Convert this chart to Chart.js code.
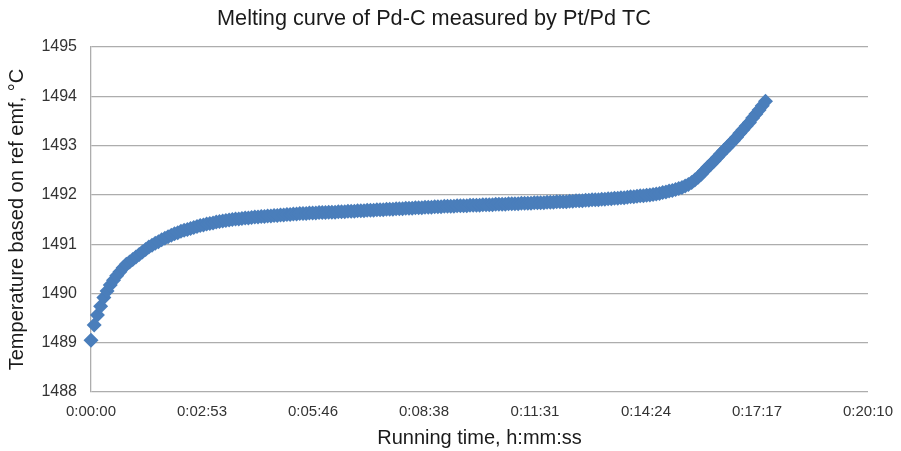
<!DOCTYPE html>
<html>
<head>
<meta charset="utf-8">
<script src="https://cdn.jsdelivr.net/npm/chart.js@4.4.1/dist/chart.umd.min.js"></script>
<style>
  body { margin: 0; background: #fff; }
  canvas { display: block; }
</style>
</head>
<body>
<canvas id="myChart" width="901" height="451"></canvas>
<script>
// sampling interval of the logger, seconds
const sampleStep = 5;

// temperature readings, one row per minute
const temperature = [
    1489.05, 1489.36, 1489.56, 1489.74, 1489.92, 1490.05, 1490.17, 1490.27, 1490.36, 1490.44, 1490.52, 1490.59,
    1490.64, 1490.69, 1490.74, 1490.79, 1490.84, 1490.89, 1490.94, 1490.98, 1491.02, 1491.05, 1491.09, 1491.12,
    1491.15, 1491.18, 1491.21, 1491.23, 1491.26, 1491.28, 1491.30, 1491.32, 1491.34, 1491.36, 1491.38, 1491.39,
    1491.41, 1491.42, 1491.43, 1491.45, 1491.46, 1491.47, 1491.48, 1491.49, 1491.50, 1491.51, 1491.51, 1491.52,
    1491.53, 1491.53, 1491.54, 1491.55, 1491.55, 1491.56, 1491.56, 1491.57, 1491.57, 1491.58, 1491.58, 1491.59,
    1491.59, 1491.60, 1491.60, 1491.61, 1491.61, 1491.62, 1491.62, 1491.62, 1491.63, 1491.63, 1491.63, 1491.64,
    1491.64, 1491.64, 1491.65, 1491.65, 1491.65, 1491.66, 1491.66, 1491.66, 1491.67, 1491.67, 1491.67, 1491.68,
    1491.68, 1491.68, 1491.69, 1491.69, 1491.69, 1491.70, 1491.70, 1491.70, 1491.71, 1491.71, 1491.71, 1491.72,
    1491.72, 1491.72, 1491.73, 1491.73, 1491.73, 1491.74, 1491.74, 1491.74, 1491.75, 1491.75, 1491.75, 1491.76,
    1491.76, 1491.76, 1491.77, 1491.77, 1491.77, 1491.77, 1491.78, 1491.78, 1491.78, 1491.78, 1491.79, 1491.79,
    1491.79, 1491.79, 1491.80, 1491.80, 1491.80, 1491.80, 1491.81, 1491.81, 1491.81, 1491.81, 1491.82, 1491.82,
    1491.82, 1491.82, 1491.83, 1491.83, 1491.83, 1491.83, 1491.84, 1491.84, 1491.84, 1491.84, 1491.85, 1491.85,
    1491.85, 1491.86, 1491.86, 1491.86, 1491.86, 1491.87, 1491.87, 1491.88, 1491.88, 1491.88, 1491.89, 1491.89,
    1491.90, 1491.90, 1491.90, 1491.91, 1491.91, 1491.92, 1491.92, 1491.93, 1491.93, 1491.94, 1491.94, 1491.95,
    1491.96, 1491.96, 1491.97, 1491.98, 1491.98, 1491.99, 1492.00, 1492.01, 1492.02, 1492.03, 1492.05, 1492.06,
    1492.08, 1492.09, 1492.11, 1492.13, 1492.15, 1492.18, 1492.21, 1492.25, 1492.30, 1492.36, 1492.42, 1492.49,
    1492.56, 1492.62, 1492.69, 1492.76, 1492.83, 1492.90, 1492.96, 1493.03, 1493.10, 1493.17, 1493.25, 1493.32,
    1493.40, 1493.47, 1493.56, 1493.64, 1493.72, 1493.81, 1493.90
];

// x axis: 0.002 day steps, shown as h:mm:ss
const xTickStep = 172.8;
const xTickLabels = ['0:00:00', '0:02:53', '0:05:46', '0:08:38', '0:11:31', '0:14:24', '0:17:17', '0:20:10'];

const yMin = 1488;
const yMax = 1495;

const points = temperature.map((t, i) => ({ x: i * sampleStep, y: t }));

const fontFamily = "'Liberation Sans', Arial, sans-serif";
const gridColor = '#adadad';

var ctx = document.getElementById('myChart').getContext('2d');
const myChart = new Chart(ctx, {
    type: 'scatter',
    data: {
        datasets: [{
            label: 'Pd-C',
            data: points,
            showLine: false,
            clip: false,
            pointStyle: 'rectRot',
            pointRadius: 7.5,
            pointBorderWidth: 0,
            backgroundColor: '#4a7ebb',
            borderColor: '#4a7ebb',
        }],
    },
    options: {
        responsive: false,
        animation: false,
        layout: {
            padding: { left: 0, right: 33, top: 0, bottom: 0 },
        },
        plugins: {
            legend: { display: false },
            tooltip: { enabled: false },
            title: {
                display: true,
                text: 'Melting curve of Pd-C measured by Pt/Pd TC',
                color: '#1a1a1a',
                font: { family: fontFamily, size: 21.7, weight: 'normal' },
                padding: { top: 6, bottom: 15 },
            },
        },
        scales: {
            x: {
                type: 'linear',
                min: 0,
                max: xTickStep * (xTickLabels.length - 1),
                afterBuildTicks: scale => {
                    scale.ticks = xTickLabels.map((_, i) => ({ value: i * xTickStep }));
                },
                afterFit: scale => {
                    scale.paddingLeft = 0;
                    scale.paddingRight = 0;
                },
                grid: { display: false, drawTicks: false },
                border: { display: false },
                ticks: {
                    color: '#333',
                    padding: 11,
                    maxRotation: 0,
                    autoSkip: false,
                    font: { family: fontFamily, size: 15 },
                    callback: (value, index) => xTickLabels[index],
                },
                title: {
                    display: true,
                    text: 'Running time, h:mm:ss',
                    color: '#1a1a1a',
                    font: { family: fontFamily, size: 20 },
                    padding: { top: -6, bottom: 1 },
                },
            },
            y: {
                min: yMin,
                max: yMax,
                afterFit: scale => { scale.width = 91; },
                grid: { color: gridColor, lineWidth: 1.3, drawTicks: false },
                border: { display: true, color: gridColor, width: 1.3 },
                ticks: {
                    stepSize: 1,
                    color: '#333',
                    padding: 14,
                    font: { family: fontFamily, size: 16 },
                    callback: value => String(value),
                },
                title: {
                    display: true,
                    text: 'Temperature based on ref emf, °C',
                    color: '#1a1a1a',
                    font: { family: fontFamily, size: 20 },
                    padding: { top: 5, bottom: 0 },
                },
            },
        },
    },
});
</script>
</body>
</html>
